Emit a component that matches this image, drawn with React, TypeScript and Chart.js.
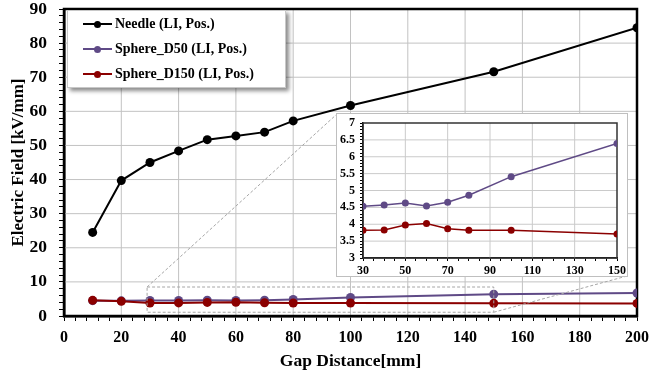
import React, { useEffect, useRef } from 'react';
import { Chart, registerables } from 'chart.js';

Chart.register(...registerables);

// ---------- data ----------
const gapDistance = [10, 20, 30, 40, 50, 60, 70, 80, 100, 150, 200];
const needle = [24.5, 39.7, 45.0, 48.4, 51.7, 52.8, 53.9, 57.2, 61.7, 71.6, 84.5];
const sphereD50 = [4.5, 4.45, 4.53, 4.57, 4.63, 4.54, 4.65, 4.86, 5.41, 6.39, 6.75];
const sphereD150 = [4.6, 4.3, 3.82, 3.83, 3.98, 4.02, 3.87, 3.82, 3.82, 3.71, 3.7];

const seriesNames = ['Needle (LI, Pos.)', 'Sphere_D50 (LI, Pos.)', 'Sphere_D150 (LI, Pos.)'];
const seriesColors = ['#000000', '#5f4a86', '#8b0000'];

const mainGridX = [20, 40, 60, 80, 100, 120, 140, 160, 180];
const mainGridY = [10, 20, 30, 40, 50, 60, 70, 80];
const insetGridX = [50, 70, 90, 110, 130];
const insetGridY = [3.5, 4, 4.5, 5, 5.5, 6, 6.5];

const insetRangeX = [30, 150];
const insetRangeY = [3, 7];
const zoomBoxY = [1.1, 8.5];

const FONT = "'Liberation Serif', 'Times New Roman', serif";

const W = 655;
const H = 373;
// inset box (outer, pixel layout)
const INSET = { left: 337, top: 114, width: 290, height: 162 };

const pts = (ys: number[], lo = -Infinity, hi = Infinity) =>
  gapDistance
    .map((x, i) => ({ x, y: ys[i] }))
    .filter((p) => p.x >= lo && p.x <= hi);

const makeGridPlugin = (
  id: string,
  gx: number[],
  gy: number[],
  gridColor: string,
  gridWidth: number,
  frameColor: string,
  frameWidth: number
) => ({
  id,
  beforeDatasetsDraw(chart: any) {
    const { left, top, right, bottom } = chart.chartArea;
    const ctx = chart.ctx;
    const xs = chart.scales.x;
    const ys = chart.scales.y;
    ctx.save();
    ctx.setLineDash([]);
    ctx.globalAlpha = 1;
    ctx.strokeStyle = gridColor;
    ctx.lineWidth = gridWidth;
    gx.forEach((v) => {
      const p = xs.getPixelForValue(v);
      ctx.beginPath();
      ctx.moveTo(p, top);
      ctx.lineTo(p, bottom);
      ctx.stroke();
    });
    gy.forEach((v) => {
      const p = ys.getPixelForValue(v);
      ctx.beginPath();
      ctx.moveTo(left, p);
      ctx.lineTo(right, p);
      ctx.stroke();
    });
    ctx.strokeStyle = frameColor;
    ctx.lineWidth = frameWidth;
    ctx.strokeRect(left, top, right - left, bottom - top);
    ctx.restore();
  },
});

const noPad = (s: any) => {
  s.paddingTop = 0;
  s.paddingBottom = 0;
  s.paddingLeft = 0;
  s.paddingRight = 0;
};

export default function App() {
  const mainRef = useRef<HTMLCanvasElement>(null);
  const insetRef = useRef<HTMLCanvasElement>(null);

  useEffect(() => {
    const zoomPlugin = {
      id: 'zoomBox',
      afterDatasetsDraw(chart: any) {
        const ctx = chart.ctx;
        const xs = chart.scales.x;
        const ys = chart.scales.y;
        const x0 = xs.getPixelForValue(insetRangeX[0] - 1);
        const x1 = xs.getPixelForValue(insetRangeX[1]);
        const y0 = ys.getPixelForValue(zoomBoxY[1]);
        const y1 = ys.getPixelForValue(zoomBoxY[0]);
        ctx.save();
        ctx.strokeStyle = '#a6a6a6';
        ctx.lineWidth = 1;
        ctx.setLineDash([3, 2]);
        ctx.strokeRect(x0, y0, x1 - x0, y1 - y0);
        ctx.beginPath();
        ctx.moveTo(x0, y0);
        ctx.lineTo(INSET.left, INSET.top);
        ctx.moveTo(x1, y1);
        ctx.lineTo(INSET.left + INSET.width, INSET.top + INSET.height);
        ctx.stroke();
        ctx.restore();
      },
    };

    const allSeries = [needle, sphereD50, sphereD150];
    const noGrid = 'rgba(0,0,0,0)';

    const main = new Chart(mainRef.current!, {
      type: 'line',
      data: {
        datasets: allSeries.map((s, i) => ({
          label: seriesNames[i],
          data: pts(s),
          borderColor: seriesColors[i],
          backgroundColor: seriesColors[i],
          pointBackgroundColor: seriesColors[i],
          pointBorderColor: seriesColors[i],
          borderWidth: 2,
          pointRadius: 4.5,
          pointBorderWidth: 0,
          order: i === 0 ? 0 : i === 1 ? 2 : 1,
        })),
      },
      options: {
        animation: false,
        responsive: false,
        devicePixelRatio: 1,
        parsing: false,
        layout: { padding: { top: 9, right: 18, left: 0, bottom: 0 } },
        plugins: { legend: { display: false }, tooltip: { enabled: false } },
        scales: {
          x: {
            type: 'linear',
            min: 0,
            max: 200,
            afterFit: (s: any) => {
              s.height = 57;
              noPad(s);
            },
            ticks: {
              stepSize: 4,
              autoSkip: false,
              maxRotation: 0,
              padding: 7,
              color: '#000',
              font: { family: FONT, size: 16, weight: 'bold' },
              callback: (v: any) => (Math.round(v) % 20 === 0 ? String(v) : ''),
            },
            grid: {
              color: noGrid,
              tickColor: '#000',
              tickLength: 5,
              tickWidth: 1,
            },
            border: { color: '#000', width: 2.5 },
            title: {
              display: true,
              text: 'Gap Distance[mm]',
              color: '#000',
              font: { family: FONT, size: 17.5, weight: 'bold' },
              padding: { top: 0, bottom: 1.5 },
            },
          },
          y: {
            type: 'linear',
            min: 0,
            max: 90,
            afterFit: (s: any) => {
              s.width = 64;
              noPad(s);
            },
            ticks: {
              stepSize: 2,
              autoSkip: false,
              padding: 12,
              color: '#000',
              font: { family: FONT, size: 17.5, weight: 'bold' },
              callback: (v: any) => (Math.round(v) % 10 === 0 ? String(v) : ''),
            },
            grid: {
              color: noGrid,
              tickColor: '#000',
              tickLength: 5,
              tickWidth: 1,
            },
            border: { color: '#000', width: 2.5 },
            title: {
              display: true,
              text: 'Electric Field [kV/mm]',
              color: '#000',
              font: { family: FONT, size: 17, weight: 'bold' },
              padding: { top: 8, bottom: 0 },
            },
          },
        },
      },
      plugins: [makeGridPlugin('mainGrid', mainGridX, mainGridY, '#c2c2c2', 1, '#000', 2.5), zoomPlugin],
    } as any);

    const inset = new Chart(insetRef.current!, {
      type: 'line',
      data: {
        datasets: [sphereD50, sphereD150].map((s, i) => ({
          label: seriesNames[i + 1],
          data: pts(s, insetRangeX[0], insetRangeX[1]),
          borderColor: seriesColors[i + 1],
          backgroundColor: seriesColors[i + 1],
          pointBackgroundColor: seriesColors[i + 1],
          pointBorderColor: seriesColors[i + 1],
          borderWidth: 1.5,
          pointRadius: 3.5,
          pointBorderWidth: 0,
        })),
      },
      options: {
        animation: false,
        responsive: false,
        devicePixelRatio: 1,
        parsing: false,
        layout: { padding: { top: 9, right: 10, left: 0, bottom: 0 } },
        plugins: { legend: { display: false }, tooltip: { enabled: false } },
        scales: {
          x: {
            type: 'linear',
            min: insetRangeX[0],
            max: insetRangeX[1],
            afterFit: (s: any) => {
              s.height = 18;
              noPad(s);
            },
            ticks: {
              stepSize: 5,
              autoSkip: false,
              maxRotation: 0,
              padding: 2.5,
              color: '#000',
              font: { family: FONT, size: 12, weight: 'bold' },
              callback: (v: any) => ((Math.round(v) - insetRangeX[0]) % 20 === 0 ? String(v) : ''),
            },
            grid: {
              color: noGrid,
              tickColor: '#000',
              tickLength: 3,
              tickWidth: 1,
            },
            border: { color: '#000', width: 1.5 },
          },
          y: {
            type: 'linear',
            min: insetRangeY[0],
            max: insetRangeY[1],
            afterFit: (s: any) => {
              s.width = 26;
              noPad(s);
            },
            ticks: {
              stepSize: 0.1,
              autoSkip: false,
              padding: 5,
              color: '#000',
              font: { family: FONT, size: 12, weight: 'bold' },
              callback: (v: any) => (Math.round(v * 10) % 5 === 0 ? String(Math.round(v * 10) / 10) : ''),
            },
            grid: {
              color: noGrid,
              tickColor: '#000',
              tickLength: 3,
              tickWidth: 1,
            },
            border: { color: '#000', width: 1.5 },
          },
        },
      },
      plugins: [makeGridPlugin('insetGrid', insetGridX, insetGridY, '#cacaca', 1, '#333', 1.5)],
    } as any);

    return () => {
      main.destroy();
      inset.destroy();
    };
  }, []);

  return (
    <div style={{ position: 'fixed', left: 0, top: 0, width: W, height: H, background: '#fff', overflow: 'hidden' }}>
      <canvas ref={mainRef} width={W} height={H} style={{ position: 'absolute', left: 0, top: 0, width: W, height: H }} />
      <div
        style={{
          position: 'absolute',
          left: 67,
          top: 10,
          width: 219,
          height: 78,
          background: '#fff',
          border: '1px solid #c8c8c8',
          boxShadow: '3px 3px 4px rgba(0,0,0,0.45)',
          boxSizing: 'border-box',
        }}
      >
        {seriesNames.map((name, i) => (
          <div key={name} style={{ position: 'absolute', left: 0, top: 3 + i * 25, height: 20, width: '100%' }}>
            <div
              style={{
                position: 'absolute',
                left: 15,
                top: 9,
                width: 29,
                height: 2,
                background: seriesColors[i],
              }}
            />
            <div
              style={{
                position: 'absolute',
                left: 26,
                top: 6.5,
                width: 7,
                height: 7,
                borderRadius: '50%',
                background: seriesColors[i],
              }}
            />
            <div
              style={{
                position: 'absolute',
                left: 47,
                top: 0,
                lineHeight: '20px',
                fontFamily: FONT,
                fontWeight: 'bold',
                fontSize: 14,
                color: '#000',
                whiteSpace: 'nowrap',
              }}
            >
              {name}
            </div>
          </div>
        ))}
      </div>
      <div
        style={{
          position: 'absolute',
          left: INSET.left - 1,
          top: INSET.top - 1,
          width: INSET.width,
          height: INSET.height,
          border: '1px solid #bfbfbf',
          background: '#fff',
        }}
      >
        <canvas
          ref={insetRef}
          width={INSET.width}
          height={INSET.height}
          style={{ display: 'block', width: INSET.width, height: INSET.height }}
        />
      </div>
    </div>
  );
}
